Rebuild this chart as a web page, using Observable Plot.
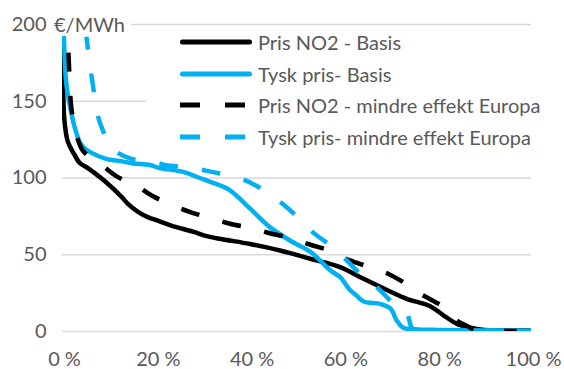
<!DOCTYPE html>
<html>
<head>
<meta charset="utf-8">
<script src="https://cdn.jsdelivr.net/npm/d3@7"></script>
<script src="https://cdn.jsdelivr.net/npm/@observablehq/plot@0.6"></script>
<style>
  html, body { margin: 0; padding: 0; background: #fff; }
  #wrap { position: relative; width: 564px; height: 369px; font-family: Lato, "DejaVu Sans", sans-serif; color: #595959; }
  #unit { position: absolute; left: 51px; top: 12px; background: #fff; padding: 0 6px 0 3px; font-size: 20px; line-height: 24px; }
  #legend { position: absolute; left: 146px; top: 27px; width: 392px; height: 126px; background: #fff; }
  .row { position: absolute; left: 0; height: 24px; display: flex; align-items: center; font-size: 20px; white-space: nowrap; }
  .row svg { margin-left: 34px; margin-right: 6px; }
</style>
</head>
<body>
<div id="wrap">
  <div id="chart"></div>
  <div id="unit">€/MWh</div>
  <div id="legend"></div>
</div>
<script>
// ---- data ----
const seriesNames = [
  "Pris NO2 - Basis",
  "Tysk pris- Basis",
  "Pris NO2 - mindre effekt Europa",
  "Tysk pris- mindre effekt Europa"
];
const xTicks = [0, 20, 40, 60, 80, 100];
const yTicks = [0, 50, 100, 150, 200];
const yUnit = "€/MWh";

// Pris NO2 - Basis (share of hours %, price)
const no2BasisX = [0, 0.1, 0.3, 0.7, 1.1, 2.0, 2.6, 3.6, 5.4, 6.5, 9.0, 12.5, 14.0, 16.1, 18.2, 20.0, 23.2, 28.2, 30.3, 33.5, 40.0, 46.4, 52.8, 59.2, 64.2, 69.2, 73.4, 78.4, 81.3, 84.1, 87.0, 90.0, 100];
const no2BasisY = [192, 170, 142, 130, 124, 118, 115, 110, 106.5, 104, 98, 88, 83, 78, 74.5, 72.5, 69, 64.7, 62.5, 60.4, 57, 52.8, 47.4, 42, 34.3, 27, 21.3, 16.5, 10.4, 5, 2.5, 1, 0.7];

// Tysk pris - Basis
const deBasisX = [0.3, 0.7, 1.1, 1.9, 2.6, 3.6, 4.5, 5.8, 9.3, 12.5, 15.0, 18.6, 20.7, 25.7, 29.3, 32.0, 35.7, 40.0, 44.2, 48.5, 52.8, 54.9, 57.0, 59.2, 61.3, 62.5, 64.2, 67.7, 69.9, 71.3, 72.6, 75.0, 80.0, 90.0, 100];
const deBasisY = [192, 165, 155, 142, 133, 124, 120, 117, 112.5, 111, 109.5, 108.5, 106.5, 104, 100, 97, 92, 80, 68, 59.3, 52, 46.3, 40, 35.4, 27, 24, 19.5, 18, 15, 7, 2.5, 1.5, 1, 0.7, 0.5];

// Pris NO2 - mindre effekt Europa
const no2LowX = [1.0, 1.2, 1.4, 1.7, 2.0, 2.8, 3.5, 4.3, 6.0, 8.3, 11.3, 13.5, 16.0, 19.0, 23.6, 27.1, 32.1, 35.7, 40.7, 44.2, 49.2, 52.4, 57.8, 59.2, 62.5, 66.0, 69.5, 73.8, 76.6, 79.0, 81.3, 84.1, 86.3, 88.0, 92.0, 100];
const no2LowY = [192, 185, 172, 152, 143, 130, 123, 118, 113, 108.5, 101.6, 98, 94.5, 88.6, 82, 78, 73.4, 70.2, 67, 64, 60.4, 57, 51.7, 49, 45, 41.5, 37.5, 30, 24, 20, 15.8, 7.2, 3.5, 1, 0.5, 0.3];

// Tysk pris - mindre effekt Europa
const deLowX = [5.1, 5.8, 6.6, 7.4, 8.6, 10.0, 11.5, 14.7, 19.0, 21.8, 23.2, 28.6, 31.8, 37.1, 40.7, 45.0, 47.8, 51.3, 53.8, 58.1, 60.6, 64.2, 67.0, 70.6, 73.4, 74.6, 76.0, 85.0, 100];
const deLowY = [192, 175, 158, 142, 131, 122, 117, 112.5, 111, 108.5, 108, 106, 104, 100.5, 96, 87.5, 81, 71, 63.6, 54, 46.3, 35.4, 29, 18, 11.5, 2, 1, 0.8, 0.5];

// ---- styles ----
const colors = ["#000000", "#00B0F0", "#000000", "#00B0F0"];
const dashes = [null, null, "19,24", "19,24"];
const dashOffsets = [0, 0, 27, 6];
const lw = 4.5;

const seriesX = [no2BasisX, deBasisX, no2LowX, deLowX];
const seriesY = [no2BasisY, deBasisY, no2LowY, deLowY];
const tables = seriesX.map((xs, i) => xs.map((x, j) => ({series: seriesNames[i], x, y: seriesY[i][j]})));

const chart = Plot.plot({
  width: 564,
  height: 369,
  marginLeft: 62,
  marginRight: 33,
  marginTop: 24,
  marginBottom: 38,
  style: {fontFamily: "Lato, 'DejaVu Sans', sans-serif", fontSize: "20px", color: "#595959", background: "#fff", overflow: "visible"},
  x: {domain: [0, 100]},
  y: {domain: [0, 200]},
  marks: [
    Plot.ruleY(yTicks, {stroke: "#d9d9d9", strokeWidth: 1.5}),
    Plot.axisY(yTicks, {tickSize: 0, tickPadding: 16, label: null, fontSize: 20}),
    Plot.axisX(xTicks, {tickSize: 0, tickPadding: 20, label: null, fontSize: 20, tickFormat: d => d + " %", dx: 2}),
    ...tables.map((t, i) => Plot.line(t, {
      x: "x", y: "y",
      stroke: colors[i],
      strokeWidth: lw,
      strokeLinejoin: "round",
      strokeLinecap: dashes[i] ? "butt" : "round",
      strokeDasharray: dashes[i] ?? undefined,
      strokeDashoffset: dashOffsets[i],
      curve: "catmull-rom",
      clip: true
    }))
  ]
});
document.getElementById("chart").append(chart);
document.getElementById("unit").textContent = yUnit;

// legend (inside the plot area, white box)
const legend = document.getElementById("legend");
const rowTops = [3, 34.5, 66, 98];
seriesNames.forEach((name, i) => {
  const row = document.createElement("div");
  row.className = "row";
  row.style.top = rowTops[i] + "px";
  const ns = "http://www.w3.org/2000/svg";
  const svg = document.createElementNS(ns, "svg");
  svg.setAttribute("width", 72);
  svg.setAttribute("height", 10);
  const ln = document.createElementNS(ns, "line");
  ln.setAttribute("x1", dashes[i] ? 0 : 2.5);
  ln.setAttribute("x2", dashes[i] ? 72 : 69.5);
  ln.setAttribute("y1", 5);
  ln.setAttribute("y2", 5);
  ln.setAttribute("stroke", colors[i]);
  ln.setAttribute("stroke-width", 5);
  ln.setAttribute("stroke-linecap", dashes[i] ? "butt" : "round");
  if (dashes[i]) ln.setAttribute("stroke-dasharray", "20,25");
  svg.append(ln);
  const span = document.createElement("span");
  span.textContent = name;
  row.append(svg, span);
  legend.append(row);
});
</script>
</body>
</html>
